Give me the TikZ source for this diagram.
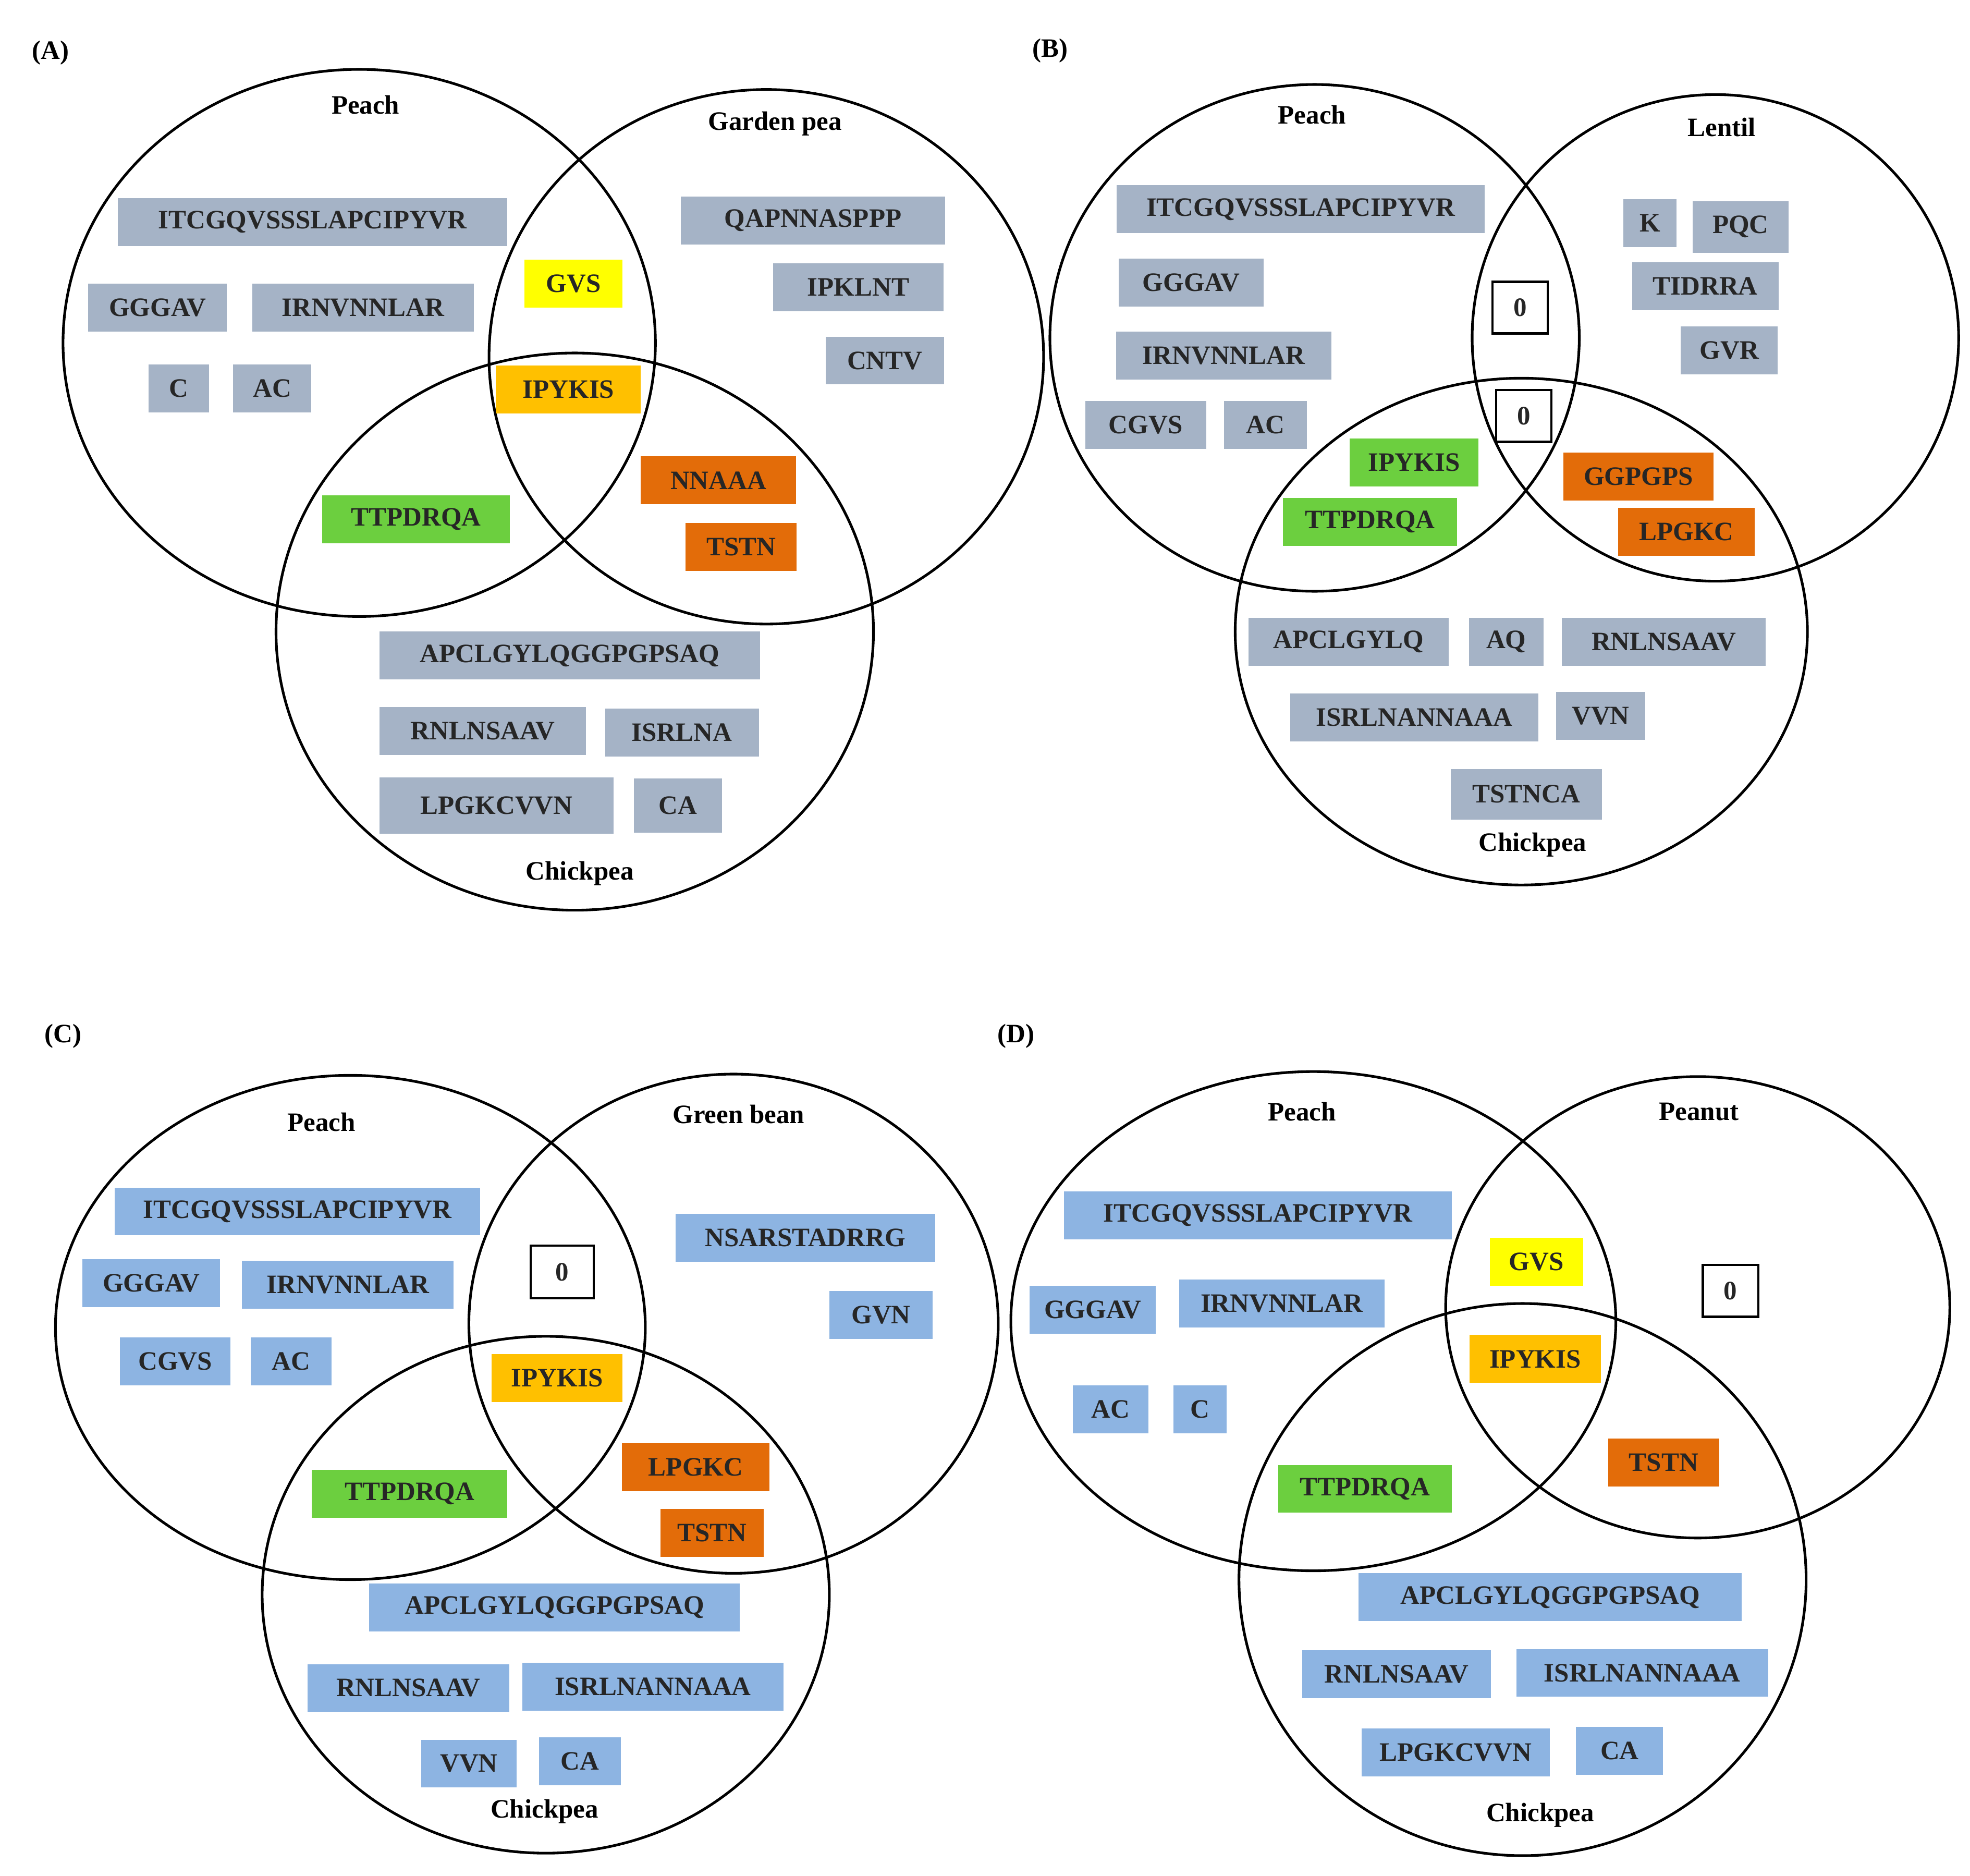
\documentclass[tikz,border=0pt]{standalone}
\usepackage{fontspec}
\setmainfont{Liberation Serif}
\definecolor{gry}{HTML}{A5B3C6}
\definecolor{blu}{HTML}{8DB4E2}
\definecolor{yel}{HTML}{FFFF00}
\definecolor{gld}{HTML}{FFC000}
\definecolor{org}{HTML}{E36C09}
\definecolor{grn}{HTML}{6CCF3F}
\newcommand\bx[6]{\node[box,fill=#5,minimum width=#4 cm] (#1) at (#2,-#3) {#6};}
\newcommand\zb[3]{\node[box,draw=black,fill=white,line width=0.5pt,minimum width=0.44cm,minimum height=0.41cm] (#1) at (#2,-#3) {0};}
\newcommand\ov[5]{\draw[circ] (#2,-#3) ellipse [x radius=#4,y radius=#5]; \coordinate (#1) at (#2,-#3);}
\begin{document}
\begin{tikzpicture}[font=\fontsize{6}{7}\selectfont\bfseries,
  box/.style={inner sep=0pt,minimum height=0.38cm,text=black!85},
  circ/.style={line width=0.6pt},
  lab/.style={inner sep=0pt}]
\useasboundingbox (0,0) rectangle (15.63,-14.88);
% ---------- A ----------
\node[lab] (la) at (0.40,-0.42) {(A)};
\ov{pa}{2.85}{2.72}{2.35}{2.17}
\ov{ga}{6.08}{2.83}{2.20}{2.12}
\ov{ca}{4.56}{5.01}{2.37}{2.21}
\node[lab] (ta1) at (2.90,-0.83) {Peach};
\node[lab] (ta2) at (6.15,-0.98) {Garden pea};
\node[lab] (ta3) at (4.60,-6.93) {Chickpea};
\bx{a1}{2.48}{1.76}{3.09}{gry}{ITCGQVSSSLAPCIPYVR}
\bx{a2}{1.25}{2.44}{1.10}{gry}{GGGAV}
\bx{a3}{2.88}{2.44}{1.76}{gry}{IRNVNNLAR}
\bx{a4}{1.42}{3.08}{0.48}{gry}{C}
\bx{a5}{2.16}{3.08}{0.62}{gry}{AC}
\bx{a6}{4.55}{2.25}{0.78}{yel}{GVS}
\bx{a7}{4.51}{3.09}{1.15}{gld}{IPYKIS}
\bx{a8}{6.45}{1.75}{2.10}{gry}{QAPNNASPPP}
\bx{a9}{6.81}{2.28}{1.35}{gry}{IPKLNT}
\bx{a10}{7.02}{2.86}{0.94}{gry}{CNTV}
\bx{a11}{5.70}{3.81}{1.23}{org}{NNAAA}
\bx{a12}{5.88}{4.34}{0.88}{org}{TSTN}
\bx{a13}{3.30}{4.12}{1.49}{grn}{TTPDRQA}
\bx{a14}{4.52}{5.20}{3.02}{gry}{APCLGYLQGGPGPSAQ}
\bx{a15}{3.83}{5.80}{1.64}{gry}{RNLNSAAV}
\bx{a16}{5.41}{5.81}{1.22}{gry}{ISRLNA}
\node[box,fill=gry,minimum width=1.86cm,minimum height=0.45cm] (a17) at (3.94,-6.39) {LPGKCVVN};
\node[box,fill=gry,minimum width=0.70cm,minimum height=0.43cm] (a18) at (5.38,-6.39) {CA};
% ---------- B ----------
\node[lab] (lb) at (8.33,-0.40) {(B)};
\ov{pb}{10.43}{2.68}{2.10}{2.01}
\ov{lb2}{13.61}{2.68}{1.93}{1.93}
\ov{cb}{12.07}{5.01}{2.27}{2.01}
\node[lab] (tb1) at (10.41,-0.91) {Peach};
\node[lab] (tb2) at (13.66,-1.01) {Lentil};
\node[lab] (tb3) at (12.16,-6.70) {Chickpea};
\bx{b1}{10.32}{1.66}{2.92}{gry}{ITCGQVSSSLAPCIPYVR}
\bx{b2}{9.45}{2.24}{1.15}{gry}{GGGAV}
\bx{b3}{9.71}{2.82}{1.71}{gry}{IRNVNNLAR}
\bx{b4}{9.09}{3.37}{0.96}{gry}{CGVS}
\bx{b5}{10.04}{3.37}{0.66}{gry}{AC}
\bx{b6}{13.09}{1.77}{0.42}{gry}{K}
\node[box,fill=gry,minimum width=0.76cm,minimum height=0.41cm] (b7) at (13.81,-1.80) {PQC};
\bx{b8}{13.53}{2.27}{1.16}{gry}{TIDRRA}
\bx{b9}{13.72}{2.78}{0.77}{gry}{GVR}
\zb{b10}{12.06}{2.44}
\zb{b11}{12.09}{3.30}
\bx{b12}{11.22}{3.67}{1.02}{grn}{IPYKIS}
\bx{b13}{10.87}{4.14}{1.38}{grn}{TTPDRQA}
\bx{b14}{13.00}{3.78}{1.19}{org}{GGPGPS}
\bx{b15}{13.38}{4.22}{1.08}{org}{LPGKC}
\bx{b16}{10.70}{5.09}{1.59}{gry}{APCLGYLQ}
\bx{b17}{11.95}{5.09}{0.59}{gry}{AQ}
\bx{b18}{13.20}{5.09}{1.62}{gry}{RNLNSAAV}
\bx{b19}{11.22}{5.69}{1.97}{gry}{ISRLNANNAAA}
\bx{b20}{12.70}{5.68}{0.71}{gry}{VVN}
\node[box,fill=gry,minimum width=1.20cm,minimum height=0.40cm] (b21) at (12.11,-6.30) {TSTNCA};
% ---------- C ----------
\node[lab] (lc) at (0.50,-8.22) {(C)};
\ov{pc}{2.78}{10.53}{2.34}{2.00}
\ov{gc}{5.82}{10.50}{2.10}{1.98}
\ov{cc}{4.33}{12.65}{2.25}{2.05}
\node[lab] (tc1) at (2.55,-8.90) {Peach};
\node[lab] (tc2) at (5.86,-8.84) {Green bean};
\node[lab] (tc3) at (4.32,-14.37) {Chickpea};
\bx{c1}{2.36}{9.61}{2.90}{blu}{ITCGQVSSSLAPCIPYVR}
\bx{c2}{1.20}{10.18}{1.09}{blu}{GGGAV}
\bx{c3}{2.76}{10.19}{1.68}{blu}{IRNVNNLAR}
\bx{c4}{1.39}{10.80}{0.88}{blu}{CGVS}
\bx{c5}{2.31}{10.80}{0.64}{blu}{AC}
\node[box,draw=black,fill=white,line width=0.5pt,minimum width=0.50cm,minimum height=0.42cm] (c6) at (4.46,-10.09) {0};
\bx{c7}{6.39}{9.82}{2.06}{blu}{NSARSTADRRG}
\bx{c8}{6.99}{10.43}{0.82}{blu}{GVN}
\bx{c9}{4.42}{10.93}{1.04}{gld}{IPYKIS}
\bx{c10}{5.52}{11.64}{1.17}{org}{LPGKC}
\bx{c11}{5.65}{12.16}{0.82}{org}{TSTN}
\bx{c12}{3.25}{11.85}{1.55}{grn}{TTPDRQA}
\bx{c13}{4.40}{12.75}{2.94}{blu}{APCLGYLQGGPGPSAQ}
\bx{c14}{3.24}{13.39}{1.60}{blu}{RNLNSAAV}
\bx{c15}{5.18}{13.38}{2.07}{blu}{ISRLNANNAAA}
\bx{c16}{3.72}{13.99}{0.76}{blu}{VVN}
\bx{c17}{4.60}{13.97}{0.65}{blu}{CA}
% ---------- D ----------
\node[lab] (ld) at (8.06,-8.22) {(D)};
\ov{pd}{10.42}{10.48}{2.40}{1.98}
\ov{nd}{13.47}{10.37}{2.00}{1.83}
\ov{cd}{12.08}{12.53}{2.25}{2.19}
\node[lab] (td1) at (10.33,-8.82) {Peach};
\node[lab] (td2) at (13.48,-8.82) {Peanut};
\node[lab] (td3) at (12.22,-14.40) {Chickpea};
\bx{d1}{9.98}{9.64}{3.08}{blu}{ITCGQVSSSLAPCIPYVR}
\bx{d2}{8.67}{10.39}{1.00}{blu}{GGGAV}
\bx{d3}{10.17}{10.34}{1.63}{blu}{IRNVNNLAR}
\bx{d4}{8.81}{11.18}{0.60}{blu}{AC}
\bx{d5}{9.52}{11.18}{0.42}{blu}{C}
\bx{d6}{12.19}{10.01}{0.74}{yel}{GVS}
\bx{d7}{12.18}{10.78}{1.04}{gld}{IPYKIS}
\zb{d8}{13.73}{10.24}
\bx{d9}{13.20}{11.60}{0.88}{org}{TSTN}
\bx{d10}{10.83}{11.81}{1.38}{grn}{TTPDRQA}
\bx{d11}{12.30}{12.67}{3.04}{blu}{APCLGYLQGGPGPSAQ}
\bx{d12}{11.08}{13.28}{1.50}{blu}{RNLNSAAV}
\bx{d13}{13.03}{13.27}{2.00}{blu}{ISRLNANNAAA}
\bx{d14}{11.55}{13.90}{1.49}{blu}{LPGKCVVN}
\bx{d15}{12.85}{13.89}{0.69}{blu}{CA}
\end{tikzpicture}
\end{document}
